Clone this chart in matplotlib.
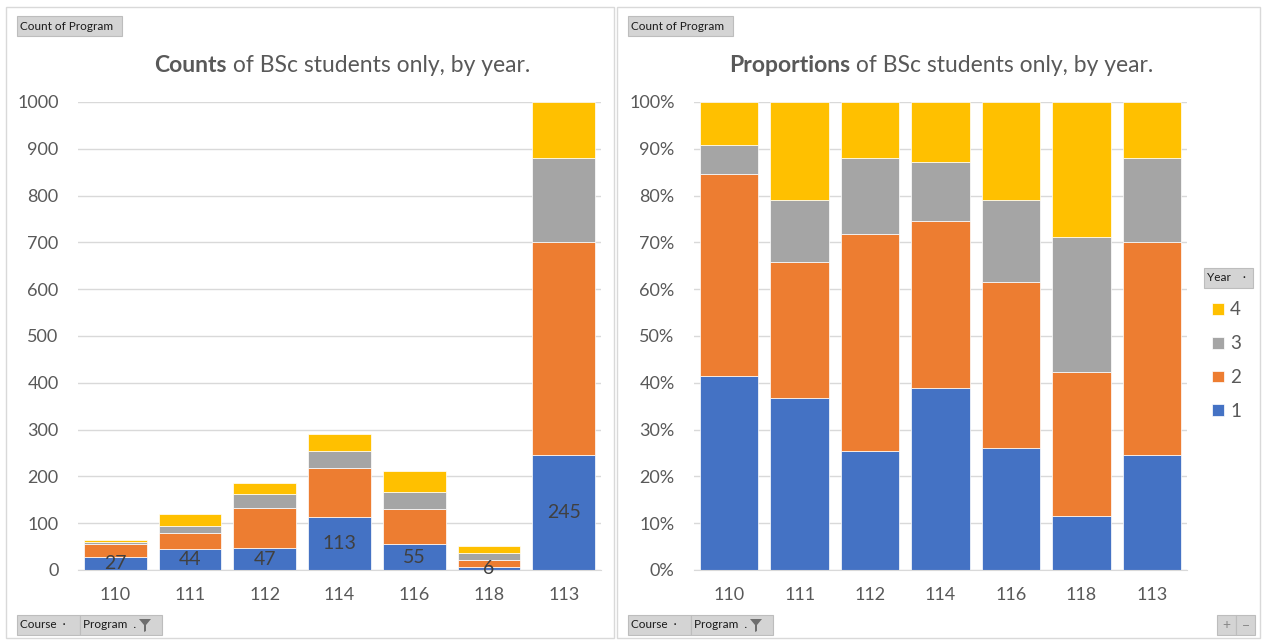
import numpy as np
import matplotlib
matplotlib.use('Agg')
import matplotlib.pyplot as plt
from matplotlib.patches import Rectangle, Polygon

plt.rcParams['font.family'] = ['Lato', 'DejaVu Sans']

# data
courses = ['110', '111', '112', '114', '116', '118', '113']
year1 = [27, 44, 47, 113, 55, 6, 245]
year2 = [28, 35, 86, 104, 75, 16, 455]
year3 = [4, 16, 30, 37, 37, 15, 180]
year4 = [6, 25, 22, 37, 44, 15, 120]
years = ['1', '2', '3', '4']
colors = ['#4472C4', '#ED7D31', '#A5A5A5', '#FFC000']

W, H = 1263, 641
fig = plt.figure(figsize=(W / 100, H / 100), dpi=100)
fig.patch.set_facecolor('white')

TXT = '#595959'
GRID = '#D9D9D9'


def fx(px):
    return px / W


def fy(py):
    return 1 - py / H


def box(x0, y0, x1, y1, **kw):
    fig.patches.append(Rectangle((fx(x0), fy(y1)), fx(x1) - fx(x0), fy(y0) - fy(y1),
                                 transform=fig.transFigure, **kw))


def button(x0, y0, x1, y1, text):
    box(x0, y0, x1, y1, facecolor='#D4D4D4', edgecolor='#BDBDBD', lw=0.8)
    fig.text(fx(x0 + 3), fy((y0 + y1) / 2), text, fontsize=8.5, color='#1A1A1A',
             ha='left', va='center')


def title(cx, cy, bold, rest):
    # bold first word + regular remainder, centred together
    r = fig.canvas.get_renderer()
    t1 = fig.text(0, fy(cy), bold, fontsize=16.5, fontweight='bold', color=TXT,
                  va='center', ha='left')
    t2 = fig.text(0, fy(cy), rest, fontsize=16.5, color=TXT, va='center', ha='left')
    w1 = t1.get_window_extent(r).width
    w2 = t2.get_window_extent(r).width
    x = cx - (w1 + w2) / 2
    t1.set_x(fx(x))
    t2.set_x(fx(x + w1))


# chart frames
box(6, 7, 614, 638, facecolor='none', edgecolor='#D9D9D9', lw=1)
box(617, 7, 1260, 638, facecolor='none', edgecolor='#D9D9D9', lw=1)


def setup(ax):
    ax.set_xlim(-0.5, len(courses) - 0.5)
    for s in ['top', 'right', 'left']:
        ax.spines[s].set_visible(False)
    ax.spines['bottom'].set_color(GRID)
    ax.grid(axis='y', color=GRID, lw=1)
    ax.set_axisbelow(True)
    ax.tick_params(length=0, labelsize=13, labelcolor=TXT)
    ax.tick_params(axis='y', pad=14)
    ax.tick_params(axis='x', pad=12)


# left: counts
ax1 = fig.add_axes([fx(78), fy(570), fx(601) - fx(78), fy(102) - fy(570)])
x = np.arange(len(courses))
bottom = np.zeros(len(courses))
series = [year1, year2, year3, year4]
bars = []
for vals, c, lab in zip(series, colors, years):
    b = ax1.bar(x, vals, 0.84, bottom=bottom, color=c, edgecolor='white', lw=0.5, label=lab)
    bars.append(b)
    bottom += np.array(vals)
ax1.bar_label(bars[0], label_type='center', fontsize=14, color='#404040')
ax1.set_ylim(0, 1000)
ax1.set_yticks(range(0, 1001, 100))
ax1.set_xticks(x, courses)
setup(ax1)

# right: proportions
ax2 = fig.add_axes([fx(694), fy(570), fx(1187) - fx(694), fy(102) - fy(570)])
tot = np.sum(series, axis=0)
bottom = np.zeros(len(courses))
bars2 = []
for vals, c, lab in zip(series, colors, years):
    p = np.array(vals) / tot
    b = ax2.bar(x, p, 0.83, bottom=bottom, color=c, edgecolor='white', lw=0.5, label=lab)
    bars2.append(b)
    bottom += p
ax2.set_ylim(0, 1)
ax2.set_yticks(np.arange(0, 1.01, 0.1))
ax2.set_yticklabels([f'{int(round(v * 100))}%' for v in np.arange(0, 1.01, 0.1)])
ax2.set_xticks(x, courses)
setup(ax2)

leg = ax2.legend(handles=bars2[::-1], labels=years[::-1], loc='upper left',
                 bbox_to_anchor=(fx(1203), fy(292)), bbox_transform=fig.transFigure,
                 frameon=False, fontsize=13.5, handlelength=0.6, handleheight=0.6,
                 handletextpad=0.35, labelspacing=0.9, labelcolor=TXT, borderpad=0)

# titles
title(342, 65, 'Counts', ' of BSc students only, by year.')
title(941, 65, 'Proportions', ' of BSc students only, by year.')

# pivot chart buttons
button(17, 16, 122, 36, 'Count of Program')
button(628, 16, 733, 36, 'Count of Program')
button(17, 615, 80, 635, 'Course  \u00b7')
button(80, 615, 162, 635, 'Program  .')
button(628, 615, 691, 635, 'Course  \u00b7')
button(691, 615, 773, 635, 'Program  .')
button(1204, 268, 1253, 288, 'Year    \u00b7')
button(1217, 615, 1236, 635, '')
button(1236, 615, 1255, 635, '')
fig.text(fx(1226.5), fy(625), '+', fontsize=10, color='#888888', ha='center', va='center')
fig.text(fx(1245.5), fy(625), '\u2212', fontsize=10, color='#888888', ha='center', va='center')

# filter funnel icons
for ox in (145, 756):
    pts = [(ox - 6, 619), (ox + 6, 619), (ox + 1, 625), (ox + 1, 631), (ox - 1, 632), (ox - 1, 625)]
    fig.patches.append(Polygon([(fx(a), fy(b)) for a, b in pts], closed=True,
                               transform=fig.transFigure, facecolor='#6E6E6E', edgecolor='none'))

fig.savefig('out.png', dpi=100, facecolor='white')
